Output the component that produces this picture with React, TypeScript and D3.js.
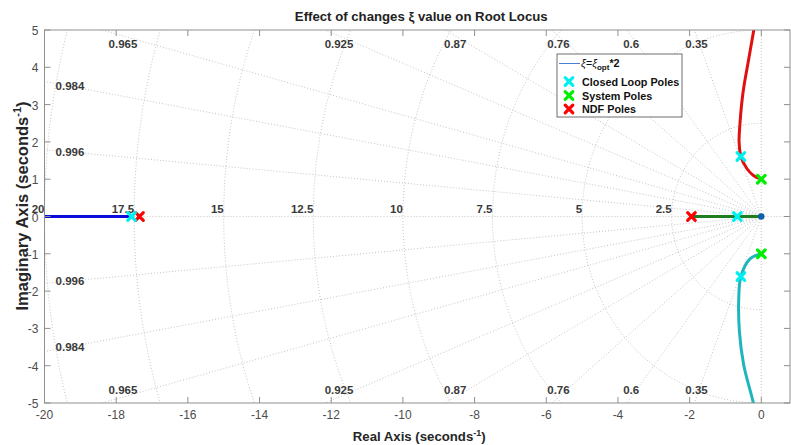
import React from "react";
import * as d3 from "d3";

// Axis ticks
const xTicks = [-20, -18, -16, -14, -12, -10, -8, -6, -4, -2, 0];
const yTicks = [-5, -4, -3, -2, -1, 0, 1, 2, 3, 4, 5];

// s-plane grid values
const dampingRatios = [0.35, 0.6, 0.76, 0.87, 0.925, 0.965, 0.984, 0.996];
const naturalFreqs = [2.5, 5, 7.5, 10, 12.5, 15, 17.5, 20];

// Root locus branches [real, imag]
const upperBranch: [number, number][] = [
  [0, 1.0], [-0.22, 1.1], [-0.4, 1.28], [-0.57, 1.61], [-0.62, 2.0],
  [-0.6, 2.44], [-0.51, 3.33], [-0.35, 4.23], [-0.21, 5.0], [-0.16, 5.3],
];
const lowerBranch: [number, number][] = [
  [0, -1.0], [-0.31, -1.13], [-0.57, -1.61], [-0.63, -2.2], [-0.61, -3.1],
  [-0.49, -3.99], [-0.23, -4.97], [-0.17, -5.3],
];
const farBranch: [number, number][] = [[-17.57, 0], [-21, 0]];
const nearBranch: [number, number][] = [[-1.95, 0], [0, 0]];

// Pole locations [real, imag]
const closedLoopPoles: [number, number][] = [[-17.57, 0], [-0.67, 0], [-0.57, 1.61], [-0.57, -1.61]];
const systemPoles: [number, number][] = [[0, 1], [0, -1]];
const ndfPoles: [number, number][] = [[-17.35, 0], [-1.95, 0]];
const originPoint: [number, number][] = [[0, 0]];

const W = 791;
const H = 445;
const M = { left: 44.5, right: 790, top: 30, bottom: 403 };

const FONT = "'Liberation Sans', Arial, Helvetica, sans-serif";
const GRID = "#bdbdbd";
const AXIS = "#8f8f8f";
const TICK_TEXT = "#4d4d4d";
const GRID_TEXT = "#3a3a3a";

const xScale = d3.scaleLinear().domain([-20, 0.8]).range([M.left, M.right]);
const yScale = d3.scaleLinear().domain([-5, 5]).range([M.bottom, M.top]);

const line = d3
  .line<[number, number]>()
  .x((d) => xScale(d[0]))
  .y((d) => yScale(d[1]))
  .curve(d3.curveCatmullRom.alpha(0.5));

const straight = d3
  .line<[number, number]>()
  .x((d) => xScale(d[0]))
  .y((d) => yScale(d[1]));

const XMark = ({ x, y, color }: { x: number; y: number; color: string }) => (
  <path
    d="M-3.8,-3.8L3.8,3.8M-3.8,3.8L3.8,-3.8"
    transform={`translate(${x},${y})`}
    stroke={color}
    strokeWidth={3.2}
    strokeLinecap="round"
    fill="none"
  />
);

export default function App() {
  const [x0, x1] = xScale.domain();
  const [y0, y1] = yScale.domain();

  // damping rays and their labels
  const rays = dampingRatios.map((z) => {
    const t = Math.sqrt(1 - z * z) / z;
    const topX = -y1 / t;
    const label = z.toString();
    if (topX >= x0) {
      const lx = xScale(-(y1 - 0.16) / t);
      return { z, t, label, kind: "top" as const, lx };
    }
    const lx = M.left + 25.5;
    const ly = yScale(-xScale.invert(lx) * t);
    return { z, t, label, kind: "left" as const, lx, ly };
  });

  const circlePath = (r: number) => {
    const pts: [number, number][] = d3
      .range(90, 270.5, 1)
      .map((a) => [r * Math.cos((a * Math.PI) / 180), r * Math.sin((a * Math.PI) / 180)]);
    return straight(pts) || "";
  };

  const legendX = 557;
  const legendY = 54;

  return (
    <svg
      width={W}
      height={H}
      style={{ position: "absolute", left: 0, top: 0, background: "#fff" }}
      fontFamily={FONT}
    >
      <defs>
        <clipPath id="plot-clip">
          <rect x={M.left} y={M.top} width={M.right - M.left} height={M.bottom - M.top} />
        </clipPath>
      </defs>
      <rect x={0} y={0} width={W} height={H} fill="#fff" />

      {/* s-plane grid */}
      <g clipPath="url(#plot-clip)" fill="none" stroke={GRID} strokeWidth={0.9} strokeDasharray="1 2">
        {rays.map((r) => (
          <g key={r.z}>
            <path d={straight([[0, 0], [-30, 30 * r.t]]) || ""} />
            <path d={straight([[0, 0], [-30, -30 * r.t]]) || ""} />
          </g>
        ))}
        {naturalFreqs.map((w) => (
          <path key={w} d={circlePath(w)} />
        ))}
        <path d={straight([[x0, 0], [x1, 0]]) || ""} />
        <path d={straight([[0, y0], [0, y1]]) || ""} />
      </g>

      {/* grid labels */}
      <g fontSize={11.5} fontWeight="bold" fill={GRID_TEXT}>
        {rays.map((r) =>
          r.kind === "top" ? (
            <g key={r.z}>
              <text x={r.lx} y={M.top + 14} textAnchor="middle" dominantBaseline="central">
                {r.label}
              </text>
              <text x={r.lx} y={M.bottom - 13} textAnchor="middle" dominantBaseline="central">
                {r.label}
              </text>
            </g>
          ) : (
            <g key={r.z}>
              <text x={r.lx} y={r.ly} textAnchor="middle" dominantBaseline="central">
                {r.label}
              </text>
              <text x={r.lx} y={2 * yScale(0) - r.ly} textAnchor="middle" dominantBaseline="central">
                {r.label}
              </text>
            </g>
          )
        )}
        {naturalFreqs.map((w) => (
          <text key={w} x={xScale(-w)} y={yScale(0) - 4} textAnchor="end">
            {w}
          </text>
        ))}
      </g>

      {/* root locus */}
      <g clipPath="url(#plot-clip)" fill="none" strokeLinecap="butt">
        <path d={straight(farBranch) || ""} stroke="#0a0adc" strokeWidth={3} />
        <path d={straight(nearBranch) || ""} stroke="#1f7f1f" strokeWidth={3} />
        <path d={line(upperBranch) || ""} stroke="#e01010" strokeWidth={3} />
        <path d={line(lowerBranch) || ""} stroke="#1fb5bd" strokeWidth={3} />
      </g>

      {/* poles */}
      <g>
        {originPoint.map((p, i) => (
          <circle key={i} cx={xScale(p[0])} cy={yScale(p[1])} r={3.2} fill="#1060b0" />
        ))}
        {ndfPoles.map((p, i) => (
          <XMark key={`n${i}`} x={xScale(p[0])} y={yScale(p[1])} color="#ff0000" />
        ))}
        {systemPoles.map((p, i) => (
          <XMark key={`s${i}`} x={xScale(p[0])} y={yScale(p[1])} color="#00ee00" />
        ))}
        {closedLoopPoles.map((p, i) => (
          <XMark key={`c${i}`} x={xScale(p[0])} y={yScale(p[1])} color="#00f0f0" />
        ))}
      </g>

      {/* axes box and ticks */}
      <g stroke={AXIS} strokeWidth={1} fill="none">
        <rect x={M.left} y={M.top} width={M.right - M.left} height={M.bottom - M.top} />
        {xTicks.map((t) => (
          <g key={t}>
            <line x1={xScale(t)} x2={xScale(t)} y1={M.bottom} y2={M.bottom - 6} />
            <line x1={xScale(t)} x2={xScale(t)} y1={M.top} y2={M.top + 6} />
          </g>
        ))}
        {yTicks.map((t) => (
          <g key={t}>
            <line x1={M.left} x2={M.left + 6} y1={yScale(t)} y2={yScale(t)} />
            <line x1={M.right} x2={M.right - 6} y1={yScale(t)} y2={yScale(t)} />
          </g>
        ))}
      </g>
      <g fontSize={12} fill={TICK_TEXT}>
        {xTicks.map((t) => (
          <text key={t} x={xScale(t)} y={M.bottom + 16} textAnchor="middle">
            {t}
          </text>
        ))}
        {yTicks.map((t) => (
          <text key={t} x={M.left - 6} y={yScale(t) + 1} textAnchor="end" dominantBaseline="central">
            {t}
          </text>
        ))}
      </g>

      {/* title and axis labels */}
      <text x={(M.left + M.right) / 2 + 4} y={21} textAnchor="middle" fontSize={13.2} fontWeight="bold" fill="#222">
        Effect of changes ξ value on Root Locus
      </text>
      <text x={(M.left + M.right) / 2 + 2} y={441} textAnchor="middle" fontSize={13.2} fontWeight="bold" fill="#262626">
        <tspan>Real Axis (seconds</tspan>
        <tspan fontSize={9} dy={-5}>-1</tspan>
        <tspan dy={5}>)</tspan>
      </text>
      <text
        transform={`translate(27.5,206) rotate(-90)`}
        textAnchor="middle"
        fontSize={16.5}
        fontWeight="bold"
        fill="#262626"
      >
        <tspan>Imaginary Axis (seconds</tspan>
        <tspan fontSize={11} dy={-7}>-1</tspan>
        <tspan dy={7}>)</tspan>
      </text>

      {/* legend */}
      <g fontSize={10.8} fontWeight="bold" fill="#111">
        <rect x={legendX} y={legendY} width={125} height={63} fill="#fff" stroke="#4a4a4a" strokeWidth={0.8} />
        <line x1={legendX + 2} x2={legendX + 23} y1={legendY + 9.5} y2={legendY + 9.5} stroke="#4a7fd0" strokeWidth={1} />
        <text x={legendX + 24} y={legendY + 13}>
          <tspan fontWeight="normal" fontStyle="italic">ξ=ξ</tspan>
          <tspan fontSize={8} dy={3}>opt</tspan>
          <tspan dy={-3}>*2</tspan>
        </text>
        <XMark x={legendX + 12} y={legendY + 27.5} color="#00f0f0" />
        <text x={legendX + 25} y={legendY + 31.5}>Closed Loop Poles</text>
        <XMark x={legendX + 12} y={legendY + 41.5} color="#00ee00" />
        <text x={legendX + 25} y={legendY + 45.5}>System Poles</text>
        <XMark x={legendX + 12} y={legendY + 55} color="#ff0000" />
        <text x={legendX + 25} y={legendY + 59}>NDF Poles</text>
      </g>
    </svg>
  );
}
